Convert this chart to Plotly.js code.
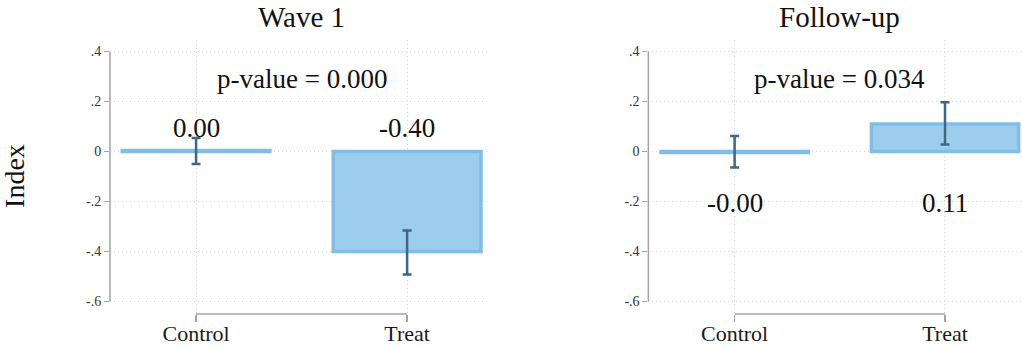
<!DOCTYPE html>
<html>
<head>
<meta charset="utf-8">
<script src="https://cdn.plot.ly/plotly-3.0.1.min.js"></script>
<style>
  html, body { margin: 0; padding: 0; background: #ffffff; }
  #chart { width: 1022px; height: 349px; }
</style>
</head>
<body>
<div id="chart"></div>
<script>
// Group means with 95% confidence intervals, by survey wave
const categories = ["Control", "Treat"];
const panelTitles = ["Wave 1", "Follow-up"];
const pValues = ["0.000", "0.034"];

const wave1Means = [0.004, -0.40];
const wave1Low   = [-0.050, -0.492];
const wave1High  = [0.054, -0.316];

const followMeans = [-0.004, 0.11];
const followLow   = [-0.064, 0.028];
const followHigh  = [0.062, 0.197];

const yTickVals = [0.4, 0.2, 0, -0.2, -0.4, -0.6];
const yTickText = [".4", ".2", "0", "-.2", "-.4", "-.6"];

const FONT = "Liberation Serif, serif";
const BAR_FILL = "#9dcdec";
const BAR_EDGE = "#80bee8";
const ERR_COL = "#3e6685";
const AXIS_COL = "#a3a3a3";
const GRID_COL = "#d4d4d4";

const panels = [
  { means: wave1Means, low: wave1Low, high: wave1High, title: panelTitles[0], p: pValues[0],
    xa: "x", ya: "y", domain: [0.1076, 0.4795], range: [-0.408, 1.393], labelY: 0.094 },
  { means: followMeans, low: followLow, high: followHigh, title: panelTitles[1], p: pValues[1],
    xa: "x2", ya: "y2", domain: [0.6344, 1.0], range: [-0.41, 1.366], labelY: -0.206 }
];

const traces = [];
const annotations = [];
const shapes = [];
const layout = {
  width: 1022, height: 349,
  margin: { l: 0, r: 0, t: 40, b: 35 },
  paper_bgcolor: "#ffffff", plot_bgcolor: "#ffffff",
  showlegend: false,
  font: { family: FONT, color: "#111111" },
  annotations: annotations,
  shapes: shapes
};

const yMin = Math.min(...yTickVals), yMax = Math.max(...yTickVals);

panels.forEach((p, i) => {
  const sfx = i === 0 ? "" : String(i + 1);
  traces.push({
    type: "bar",
    x: categories,
    y: p.means,
    xaxis: p.xa, yaxis: p.ya,
    width: 0.70,
    marker: { color: BAR_FILL, line: { color: BAR_EDGE, width: 3.5 } },
    error_y: {
      type: "data", symmetric: false,
      array: p.high.map((h, k) => h - p.means[k]),
      arrayminus: p.means.map((m, k) => m - p.low[k]),
      color: ERR_COL, thickness: 2.5, width: 4.5
    },
    hoverinfo: "skip"
  });

  layout["xaxis" + sfx] = {
    domain: p.domain, anchor: p.ya,
    type: "category", range: p.range,
    showline: false, zeroline: false,
    showgrid: true, gridcolor: GRID_COL, griddash: "1px,3px", gridwidth: 1,
    ticks: "outside", ticklen: 7, tickwidth: 1.5, tickcolor: AXIS_COL,
    ticklabelstandoff: -7,
    tickfont: { family: FONT, size: 22, color: "#1a1a1a" },
    fixedrange: true
  };
  layout["yaxis" + sfx] = {
    domain: [0, 1], anchor: p.xa,
    range: [-0.65, 0.446],
    tickvals: yTickVals, ticktext: yTickText,
    showline: false, zeroline: false,
    showgrid: true, gridcolor: GRID_COL, griddash: "1px,3px", gridwidth: 1,
    ticks: "outside", ticklen: 5, tickwidth: 1.5, tickcolor: AXIS_COL,
    tickfont: { family: FONT, size: 14, color: "#333333" },
    fixedrange: true
  };

  // axis lines spanning only the tick range / category range
  shapes.push({
    type: "line", xref: p.xa + " domain", yref: p.ya,
    x0: 0, x1: 0, y0: yMin, y1: yMax,
    line: { color: AXIS_COL, width: 1.5 }
  });
  shapes.push({
    type: "line", xref: p.xa, yref: p.ya + " domain",
    x0: 0, x1: categories.length - 1, y0: 0, y1: 0,
    line: { color: AXIS_COL, width: 1.5 }
  });

  // panel title
  annotations.push({
    xref: p.xa, yref: "paper", x: 0.5, y: 1.084,
    text: p.title, showarrow: false, xanchor: "center", yanchor: "middle",
    font: { family: FONT, size: 29, color: "#111111" }
  });
  // p-value
  annotations.push({
    xref: p.xa, yref: p.ya, x: 0.5, y: 0.29,
    text: "p-value = " + p.p, showarrow: false, xanchor: "center", yanchor: "middle",
    font: { family: FONT, size: 27, color: "#111111" }
  });
  // mean labels
  p.means.forEach((m, k) => {
    annotations.push({
      xref: p.xa, yref: p.ya, x: k, y: p.labelY,
      text: m.toFixed(2), showarrow: false, xanchor: "center", yanchor: "middle",
      font: { family: FONT, size: 27, color: "#111111" }
    });
  });
});

// shared y-axis title
annotations.push({
  xref: "paper", yref: "paper", x: 15 / 1022, y: 0.504,
  text: "Index", textangle: -90, showarrow: false,
  xanchor: "center", yanchor: "middle",
  font: { family: FONT, size: 28, color: "#111111" }
});

Plotly.newPlot("chart", traces, layout, { displayModeBar: false, staticPlot: true });
</script>
</body>
</html>
